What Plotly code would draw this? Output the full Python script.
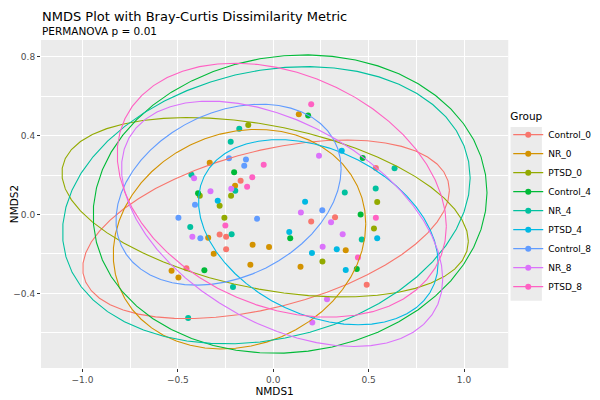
import numpy as np
import plotly.graph_objects as go

# NMDS scores per group
groups = ["Control_0", "NR_0", "PTSD_0", "Control_4", "NR_4", "PTSD_4",
          "Control_8", "NR_8", "PTSD_8"]
colors = ["#F8766D", "#D39200", "#93AA00", "#00BA38", "#00C19F", "#00B9E3",
          "#619CFF", "#DB72FB", "#FF61C3"]

nmds1 = {
    "Control_0": [-0.171, 0.538, -0.281, -0.247, -0.247, -0.455, 0.199, 0.324, 0.490],
    "NR_0": [-0.333, -0.200, 0.134, -0.341, -0.108, -0.022, -0.312, -0.120, -0.533, -0.497, 0.143, 0.380],
    "PTSD_0": [-0.131, -0.385, -0.221, -0.281, -0.256, 0.545, 0.528, 0.258],
    "Control_4": [-0.205, -0.394, 0.183, 0.469, -0.361, 0.458, 0.089, 0.438],
    "NR_4": [-0.178, -0.223, -0.429, -0.199, 0.636, 0.375, 0.537, -0.435, -0.218, -0.211, -0.446, 0.464],
    "PTSD_4": [-0.291, 0.359, 0.167, 0.084, 0.545, 0.333, 0.203, 0.380],
    "Control_8": [-0.232, -0.143, -0.152, -0.410, -0.497, -0.085, -0.382, 0.257],
    "NR_8": [-0.415, -0.220, -0.329, 0.240, -0.424, 0.145, 0.303, 0.364, 0.259, 0.282, 0.205],
    "PTSD_8": [-0.050, -0.110, -0.137, 0.199, -0.251, 0.538, 0.444],
}
nmds2 = {
    "Control_0": [0.171, 0.236, -0.101, -0.113, -0.176, -0.273, -0.035, -0.014, -0.356],
    "NR_0": [0.262, 0.145, 0.508, -0.118, -0.153, -0.165, -0.199, -0.255, -0.285, -0.319, -0.265, -0.181],
    "PTSD_0": [0.454, 0.095, 0.095, 0.044, -0.017, 0.063, -0.071, -0.238],
    "Control_4": [0.214, 0.108, 0.501, 0.286, -0.282, 0.000, -0.120, -0.276],
    "NR_4": [0.435, 0.368, 0.201, 0.120, 0.234, 0.111, 0.132, -0.064, -0.100, -0.368, -0.525, -0.127],
    "PTSD_4": [0.069, 0.323, 0.064, -0.089, -0.120, -0.176, -0.195, -0.281],
    "Control_8": [0.285, 0.278, 0.247, 0.049, -0.017, -0.022, -0.121, 0.021],
    "NR_8": [0.184, 0.130, 0.118, 0.297, -0.113, 0.010, -0.039, -0.100, -0.164, -0.430, -0.547],
    "PTSD_8": [0.252, 0.189, 0.140, 0.558, -0.056, -0.017, -0.218],
}


# robust t covariance (like MASS::cov.trob) used by ggplot's stat_ellipse
def cov_trob(x, nu=5, maxit=25, tol=0.01):
    n, p = x.shape
    loc = x.mean(axis=0)
    w = np.ones(n)
    for _ in range(maxit):
        w0 = w
        X = x - loc
        _, d, vt = np.linalg.svd(np.sqrt(w / w.sum())[:, None] * X, full_matrices=False)
        wX = X @ vt.T @ np.diag(1 / d)
        Q = (wX ** 2).sum(axis=1)
        w = (nu + p) / (nu + Q)
        loc = (w[:, None] * x).sum(axis=0) / w.sum()
        if np.all(np.abs(w - w0) < tol):
            break
    sX = np.sqrt(w)[:, None] * X
    return loc, sX.T @ sX / n


def ellipse(xs, ys, level=0.95, segments=51):
    pts = np.column_stack([xs, ys])
    n = len(pts)
    center, shape = cov_trob(pts)
    dfd = n - 1
    # F(2, dfd) quantile has a closed form
    qf = dfd / 2 * ((1 - level) ** (-2 / dfd) - 1)
    radius = np.sqrt(2 * qf)
    ang = np.arange(segments + 1) * 2 * np.pi / segments
    circ = np.column_stack([np.cos(ang), np.sin(ang)])
    R = np.linalg.cholesky(shape).T
    e = center + radius * (circ @ R)
    return e[:, 0], e[:, 1]


fig = go.Figure()
allx, ally = [], []

for g, c in zip(groups, colors):
    fig.add_trace(go.Scatter(x=nmds1[g], y=nmds2[g], mode="markers",
                             marker=dict(color=c, size=6),
                             showlegend=False))
    allx += nmds1[g]
    ally += nmds2[g]

for g, c in zip(groups, colors):
    ex, ey = ellipse(nmds1[g], nmds2[g])
    fig.add_trace(go.Scatter(x=ex, y=ey, mode="lines",
                             line=dict(color=c, width=1.1),
                             showlegend=False, hoverinfo="skip"))
    allx += list(ex)
    ally += list(ey)

# legend keys: point with line, like ggplot
for g, c in zip(groups, colors):
    fig.add_trace(go.Scatter(x=[None], y=[None], mode="lines+markers", name=g,
                             marker=dict(color=c, size=6),
                             line=dict(color=c, width=1.1)))

def expand(v):
    lo, hi = min(v), max(v)
    pad = (hi - lo) * 0.05
    return [lo - pad, hi + pad]

axis_common = dict(showgrid=True, gridcolor="white", gridwidth=1.1, automargin=False,
                   zeroline=False, ticks="outside", ticklen=3, tickcolor="#333333",
                   tickfont=dict(size=9, color="#4D4D4D"), showline=False)

# page body adds an 8px offset, so the figure is 8px smaller and margins shifted
fig.update_layout(
    width=592, height=392,
    margin=dict(l=33, r=90, t=32, b=32),
    paper_bgcolor="white", plot_bgcolor="#EBEBEB",
    font=dict(family="DejaVu Sans", color="black"),
    xaxis=dict(range=expand(allx), dtick=0.5, tick0=0, tickformat=".1f",
               minor=dict(dtick=0.25, tick0=0, showgrid=True, gridcolor="white", gridwidth=0.5),
               title=dict(text="NMDS1", font=dict(size=10.5), standoff=2), **axis_common),
    yaxis=dict(range=expand(ally), dtick=0.4, tick0=0, tickformat=".1f",
               minor=dict(dtick=0.2, tick0=0, showgrid=True, gridcolor="white", gridwidth=0.5),
               title=dict(text="NMDS2", font=dict(size=10.5), standoff=2), **axis_common),
    legend=dict(title=dict(text="Group", font=dict(size=10.5)), font=dict(size=9),
                xref="container", x=0.845, xanchor="left", y=0.5, yanchor="middle",
                tracegroupgap=0, itemwidth=30, bgcolor="rgba(0,0,0,0)"),
    shapes=[
        # grey background behind the legend keys
        dict(type="rect", xref="paper", yref="paper", x0=1.005, x1=1.072,
             y0=0.205, y1=0.735, fillcolor="#EBEBEB", line=dict(width=0), layer="below"),
    ],
    annotations=[
        dict(text="NMDS Plot with Bray-Curtis Dissimilarity Metric", x=0, xref="paper",
             xanchor="left", y=1.0976, yref="paper", yanchor="top", showarrow=False,
             font=dict(size=13), borderpad=0),
        dict(text="PERMANOVA p = 0.01", x=0, xref="paper", xanchor="left",
             y=1.026, yref="paper", yanchor="middle", showarrow=False,
             font=dict(size=10.5), borderpad=0),
    ],
)

fig.write_html("out.html")
